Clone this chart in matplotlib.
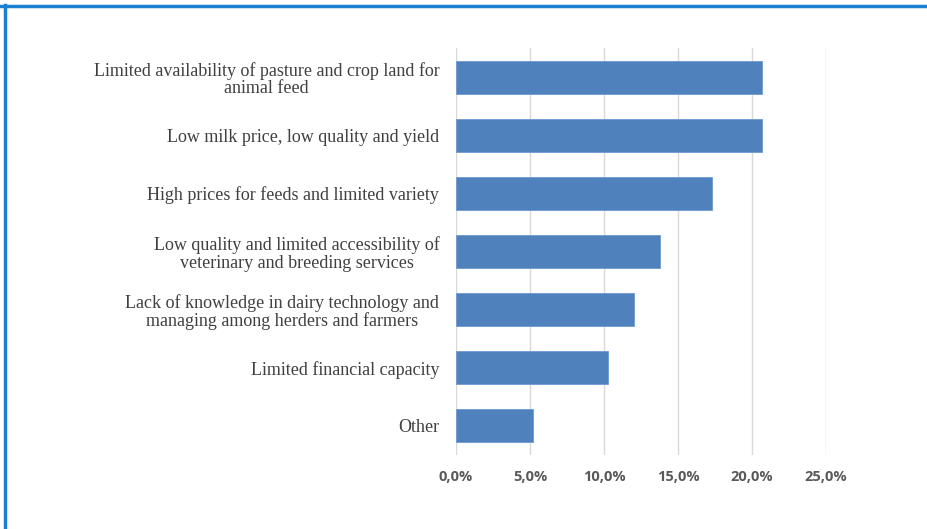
import matplotlib
matplotlib.use("Agg")
import matplotlib.pyplot as plt
from matplotlib.lines import Line2D
from matplotlib.ticker import FuncFormatter
import matplotlib.transforms as mtrans

categories = [
    "Limited availability of pasture and crop land for\nanimal feed",
    "Low milk price, low quality and yield",
    "High prices for feeds and limited variety",
    "Low quality and limited accessibility of\nveterinary and breeding services",
    "Lack of knowledge in dairy technology and\nmanaging among herders and farmers",
    "Limited financial capacity",
    "Other",
]
values = [20.7, 20.7, 17.3, 13.8, 12.0, 10.3, 5.2]
xticks = [0, 5, 10, 15, 20, 25]

fig = plt.figure(figsize=(9.28, 5.29), dpi=100)
W, H = 928, 529
left, right, top, bottom = 456, 826, 48, 455
ax = fig.add_axes([left / W, 1 - bottom / H, (right - left) / W, (bottom - top) / H])

y = list(range(len(categories)))
ax.barh(y, values, height=0.57, color="#4f81bd", edgecolor="#6f9ad0", linewidth=0.6, zorder=3)
ax.set_ylim(len(categories) - 0.5, -0.5)
ax.set_xlim(0, 25)
ax.set_xticks(xticks)
ax.xaxis.set_major_formatter(FuncFormatter(lambda v, p: f"{v:.1f}%".replace(".", ",")))
ax.grid(axis="x", color="#d9d9d9", linewidth=1.0, zorder=0)
for s in ax.spines.values():
    s.set_visible(False)
ax.tick_params(axis="both", length=0)
ax.tick_params(axis="x", pad=11)
ax.tick_params(axis="y", pad=12)
ax.set_yticks(y)
ax.set_yticklabels(categories, family="Liberation Serif", fontsize=13, color="#404040",
                   linespacing=1.05)
for lab in ax.get_yticklabels():
    lab.set_horizontalalignment("center")
for lab in ax.get_xticklabels():
    lab.set_family(["Open Sans", "DejaVu Sans"])
    lab.set_fontweight("bold")
    lab.set_fontsize(10.5)
    lab.set_color("#595959")

fig.canvas.draw()
renderer = fig.canvas.get_renderer()
for lab in ax.get_yticklabels():
    bb = lab.get_window_extent(renderer)
    shift = -(bb.width / 2) / fig.dpi
    lab.set_transform(lab.get_transform() + mtrans.ScaledTranslation(shift, 0, fig.dpi_scale_trans))

# blue frame (top and left)
fig.add_artist(Line2D([0, 1], [1 - 5.5 / H, 1 - 5.5 / H], transform=fig.transFigure,
                      color="#1a80d0", linewidth=2.5))
fig.add_artist(Line2D([5.5 / W, 5.5 / W], [0, 1 - 4.5 / H], transform=fig.transFigure,
                      color="#1a80d0", linewidth=2.5))

fig.savefig("out.png", dpi=100, facecolor="white")
